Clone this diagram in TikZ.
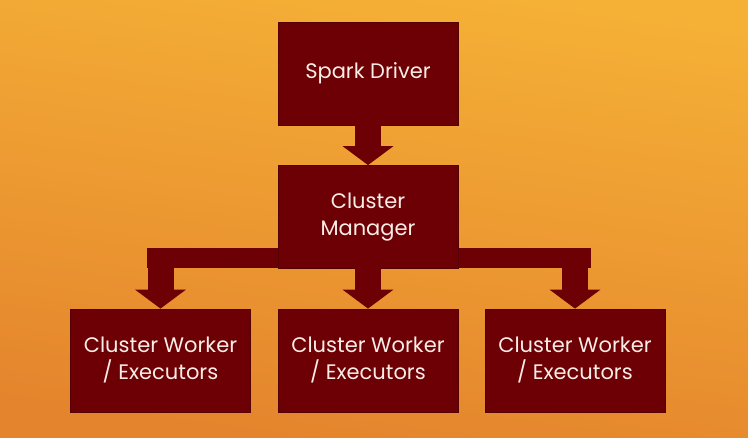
\documentclass[tikz,border=0pt]{standalone}
\usepackage{fontspec}
\setmainfont{Poppins}
\usepackage{tikz}
\usetikzlibrary{arrows.meta, positioning, calc}
\definecolor{bgtop}{RGB}{245, 176, 54}
\definecolor{bgbot}{RGB}{228, 132, 45}
\definecolor{maroon1}{RGB}{108, 0, 5}
\definecolor{maroonedge}{RGB}{82, 0, 0}
\definecolor{boxtext}{RGB}{250, 236, 230}

\begin{document}
\begin{tikzpicture}[x=1pt, y=-1pt,
  block/.style={draw=maroonedge, line width=0.8pt, fill=maroon1, text=boxtext,
    minimum width=180pt, minimum height=103pt, inner sep=0pt, align=center,
    font=\fontsize{21}{27}\selectfont},
  fatarrow/.style={draw=maroon1, line width=26pt, -{Triangle[width=50pt, length=19pt]}},
  busbar/.style={draw=maroon1, line width=20pt}]
  % Background
  \shade[top color=bgtop, bottom color=bgbot, shading angle=-8] (0,0) rectangle (748,438);

  % Bar under the manager
  \coordinate (busL) at (147,258);
  \coordinate (busR) at (591,258);
  \draw[busbar] (busL) -- (busR);

  % Driver and manager
  \node[block] (drv) at (368,73.5) {Spark Driver};
  \node[block] (mgr) at (368,217) {Cluster\\Manager};

  % Workers
  \node[block] (w1) at (160.5,360.5) {Cluster Worker\\/ Executors};
  \node[block] (w2) at (368,360.5) {Cluster Worker\\/ Executors};
  \node[block] (w3) at (575,360.5) {Cluster Worker\\/ Executors};

  % Arrows
  \draw[fatarrow] (drv) -- (mgr);
  \foreach \w in {w1,w2,w3}
    \draw[fatarrow] (\w.north |- busL) -- (\w.north);
\end{tikzpicture}
\end{document}
